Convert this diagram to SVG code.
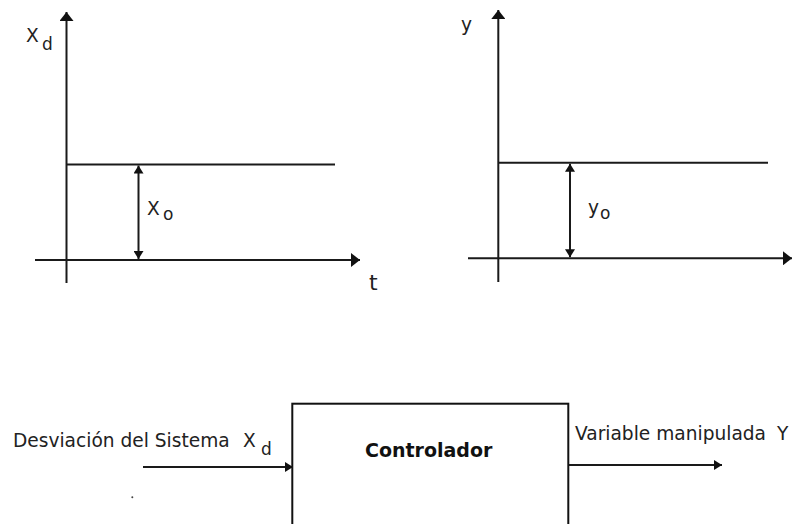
<svg xmlns="http://www.w3.org/2000/svg" width="803" height="524" viewBox="0 0 803 524">
<style>
.ln{stroke:#1a1a1a;stroke-width:2;fill:none}
.bx{stroke:#111;stroke-width:2;fill:#fff}
.tx{font-family:"DejaVu Sans","Liberation Sans",sans-serif;font-size:18.6px;fill:#222}
.sub{font-size:17px}
.bold{font-weight:bold;font-size:19px;fill:#111}
</style>
<defs>
<marker id="axis" viewBox="0 0 9 14" markerWidth="9" markerHeight="14" refX="9" refY="7" orient="auto" markerUnits="userSpaceOnUse"><path d="M0,0 L9,7 L0,14 z" fill="#111"/></marker>
<marker id="sm" viewBox="0 0 8 10" markerWidth="8" markerHeight="10" refX="8" refY="5" orient="auto-start-reverse" markerUnits="userSpaceOnUse"><path d="M0,0 L8,5 L0,10 z" fill="#111"/></marker>
</defs>
<g id="chart-xd">
<line class="ln" x1="66.5" y1="283" x2="66.5" y2="12" marker-end="url(#axis)"/>
<line class="ln" x1="35" y1="260" x2="360" y2="260" marker-end="url(#axis)"/>
<line class="ln" x1="66" y1="164.5" x2="335" y2="164.5"/>
<line class="ln" x1="138.5" y1="165.5" x2="138.5" y2="259" stroke-width="1.6" marker-start="url(#sm)" marker-end="url(#sm)"/>
<text class="tx" x="26" y="42">X<tspan class="sub" x="42" y="50">d</tspan></text>
<text class="tx" x="147" y="215">X<tspan class="sub" x="163" y="220">o</tspan></text>
<text class="tx" x="369" y="290" style="font-size:22px">t</text>
</g>
<g id="chart-y">
<line class="ln" x1="498.3" y1="282" x2="498.3" y2="10" marker-end="url(#axis)"/>
<line class="ln" x1="468" y1="258.3" x2="792" y2="258.3" marker-end="url(#axis)"/>
<line class="ln" x1="498" y1="162.7" x2="768" y2="162.7"/>
<line class="ln" x1="570" y1="163.7" x2="570" y2="257.3" stroke-width="1.6" marker-start="url(#sm)" marker-end="url(#sm)"/>
<text class="tx" x="461" y="31">y</text>
<text class="tx" x="588" y="214">y<tspan class="sub" x="600" y="219">o</tspan></text>
</g>
<g id="controlador">
<rect class="bx" x="292.3" y="403.7" width="276" height="140"/>
<text class="tx bold" x="365" y="457">Controlador</text>
</g>
<g id="labels">
<text class="tx" x="13" y="447">Desviación del Sistema <tspan x="243">X</tspan><tspan class="sub" x="261" y="455">d</tspan></text>
<text class="tx" x="575" y="440">Variable manipulada <tspan x="777">Y</tspan></text>
<circle cx="132.3" cy="497.3" r="1" fill="#444"/>
</g>
<g id="connectors">
<line class="ln" x1="143" y1="467" x2="293" y2="467" marker-end="url(#sm)"/>
<line class="ln" x1="569" y1="465" x2="722" y2="465" marker-end="url(#sm)"/>
</g>
</svg>
